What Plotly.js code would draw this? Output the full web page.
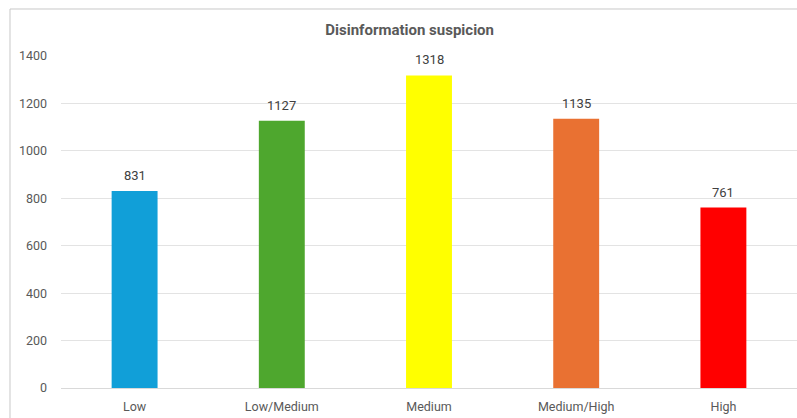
<!DOCTYPE html>
<html>
<head>
<meta charset="utf-8">
<script src="https://cdn.plot.ly/plotly-3.0.1.min.js"></script>
<style>html,body{margin:0;padding:0;background:#fff;}#chart{width:797px;height:418px;}</style>
</head>
<body>
<div id="chart"></div>
<script>
const categories = ["Low", "Low/Medium", "Medium", "Medium/High", "High"];
const counts = [831, 1127, 1318, 1135, 761];
const barColors = ["#119FD8", "#4EA72E", "#FFFF00", "#E97132", "#FF0000"];
const yTicks = [0, 200, 400, 600, 800, 1000, 1200, 1400];

const trace = {
  type: "bar",
  x: categories,
  y: counts,
  marker: {color: barColors},
  hoverinfo: "none"
};

const labels = categories.map((c, i) => ({
  x: c, y: counts[i], xref: "x", yref: "y",
  text: String(counts[i]), showarrow: false,
  yanchor: "bottom", yshift: 6,
  font: {family: "Roboto, sans-serif", size: 13, color: "#404040"}
}));

const layout = {
  width: 797,
  height: 418,
  margin: {l: 61, r: 0, t: 56, b: 30},
  paper_bgcolor: "#ffffff",
  plot_bgcolor: "#ffffff",
  bargap: 0.688,
  showlegend: false,
  font: {family: "Roboto, sans-serif", size: 12, color: "#595959"},
  title: {
    text: "<b>Disinformation suspicion</b>",
    font: {family: "Roboto, sans-serif", size: 15, color: "#595959"},
    x: 0.514, xanchor: "center",
    y: 0.93, yanchor: "middle"
  },
  xaxis: {
    type: "category",
    showgrid: false,
    zeroline: false,
    showline: false,
    ticks: "",
    ticklabelstandoff: 9,
    tickfont: {family: "Roboto, sans-serif", size: 12.5, color: "#595959"}
  },
  yaxis: {
    range: [0, 1400],
    tickvals: yTicks,
    ticktext: yTicks.map(String),
    showgrid: true,
    gridcolor: "#E3E3E3",
    gridwidth: 1,
    zeroline: true,
    zerolinecolor: "#D9D9D9",
    showline: false,
    ticks: "",
    ticklabelstandoff: 13,
    tickfont: {family: "Roboto, sans-serif", size: 12.5, color: "#595959"}
  },
  annotations: labels,
  shapes: [{
    type: "rect", xref: "paper", yref: "paper",
    x0: -0.0693, x1: 1.02, y0: -0.2, y1: 1.1416,
    line: {color: "#C8C8C8", width: 1},
    fillcolor: "rgba(0,0,0,0)",
    layer: "below"
  }]
};

Plotly.newPlot("chart", [trace], layout, {displayModeBar: false, staticPlot: true});
</script>
</body>
</html>
